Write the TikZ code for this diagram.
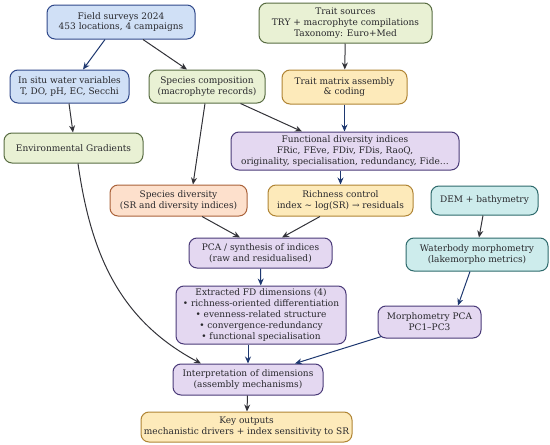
\documentclass[tikz,border=0pt]{standalone}
\usepackage{fontspec}
\setmainfont{DejaVu Serif}
\usepackage{xcolor}
\definecolor{wfBlueFill}{RGB}{208, 224, 246}
\definecolor{wfBlueLine}{RGB}{47, 72, 138}
\definecolor{wfGreenFill}{RGB}{233, 241, 212}
\definecolor{wfGreenLine}{RGB}{88, 108, 66}
\definecolor{wfSandFill}{RGB}{253, 234, 186}
\definecolor{wfSandLine}{RGB}{176, 132, 52}
\definecolor{wfLilacFill}{RGB}{228, 216, 241}
\definecolor{wfLilacLine}{RGB}{74, 58, 120}
\definecolor{wfPeachFill}{RGB}{253, 224, 204}
\definecolor{wfPeachLine}{RGB}{170, 98, 58}
\definecolor{wfTealFill}{RGB}{205, 236, 236}
\definecolor{wfTealLine}{RGB}{46, 106, 108}
\definecolor{wfNavy}{RGB}{30, 56, 112}
\definecolor{wfDark}{RGB}{50, 50, 56}
\definecolor{wfText}{RGB}{40, 40, 44}
\usepackage{tikz}
\usetikzlibrary{arrows.meta}

\begin{document}
\begin{tikzpicture}[
    x=1pt, y=-1pt,
    stepBox/.style={
        rectangle, rounded corners=8pt, line width=1pt,
        text=wfText, align=center, inner sep=1pt,
        font=\fontsize{9}{10.8}\selectfont
    },
    blueBox/.style={stepBox, fill=wfBlueFill, draw=wfBlueLine},
    greenBox/.style={stepBox, fill=wfGreenFill, draw=wfGreenLine},
    sandBox/.style={stepBox, fill=wfSandFill, draw=wfSandLine},
    lilacBox/.style={stepBox, fill=wfLilacFill, draw=wfLilacLine},
    peachBox/.style={stepBox, fill=wfPeachFill, draw=wfPeachLine},
    tealBox/.style={stepBox, fill=wfTealFill, draw=wfTealLine},
    navyArrow/.style={
        -{Stealth[length=7pt, width=6pt]}, line width=1pt, draw=wfNavy
    },
    darkArrow/.style={
        -{Stealth[length=7pt, width=6pt]}, line width=1pt, draw=wfDark
    }
]
    \useasboundingbox (0, 0) rectangle (550, 445);

    % Data sources
    \node[blueBox, minimum width=148pt, minimum height=34pt] (surveys) at (121, 22) {Field surveys 2024\\453 locations, 4 campaigns};
    \node[greenBox, minimum width=173pt, minimum height=40pt] (traitSrc) at (345.5, 23) {Trait sources\\TRY + macrophyte compilations\\Taxonomy: Euro+Med};
    \node[tealBox, minimum width=107pt, minimum height=29pt] (dem) at (484.5, 200.5) {DEM + bathymetry};

    % Intermediate products
    \node[blueBox, minimum width=119pt, minimum height=33pt] (water) at (69.5, 86.5) {In situ water variables\\T, DO, pH, EC, Secchi};
    \node[greenBox, minimum width=116pt, minimum height=33pt] (spComp) at (207, 86.5) {Species composition\\(macrophyte records)};
    \node[sandBox, minimum width=125pt, minimum height=34pt] (traitMat) at (344.5, 87) {Trait matrix assembly\\\& coding};
    \node[greenBox, minimum width=139pt, minimum height=30pt] (envGrad) at (73.5, 148) {Environmental Gradients};
    \node[lilacBox, text width=226pt, minimum height=38pt] (fdIdx) at (345, 151) {Functional diversity indices\\FRic, FEve, FDiv, FDis, RaoQ,\\originality, specialisation, redundancy, Fide…};
    \node[peachBox, minimum width=137pt, minimum height=31pt] (spDiv) at (178.5, 200.5) {Species diversity\\(SR and diversity indices)};
    \node[sandBox, minimum width=145pt, minimum height=31pt] (richCtrl) at (340.5, 200.5) {Richness control\\index ∼ log(SR) → residuals};
    \node[lilacBox, minimum width=143pt, minimum height=30pt] (pcaSyn) at (260.5, 253) {PCA / synthesis of indices\\(raw and residualised)};
    \node[tealBox, minimum width=142pt, minimum height=33pt] (morpho) at (477, 254.5) {Waterbody morphometry\\(lakemorpho metrics)};
    \node[lilacBox, minimum width=170pt, minimum height=58pt] (fdDims) at (261, 315) {Extracted FD dimensions (4)\\• richness-oriented differentiation\\• evenness-related structure\\• convergence-redundancy\\• functional specialisation};
    \node[lilacBox, minimum width=103pt, minimum height=32pt] (morphPca) at (429.5, 322) {Morphometry PCA\\PC1–PC3};

    % Synthesis
    \node[lilacBox, minimum width=150pt, minimum height=31pt] (interp) at (248, 379.5) {Interpretation of dimensions\\(assembly mechanisms)};
    \node[sandBox, minimum width=211pt, minimum height=30pt] (keyOut) at (246.5, 427) {Key outputs\\mechanistic drivers + index sensitivity to SR};

    % Connectors
    \draw[navyArrow] (surveys.south -| 105, 0) -- (water.north -| 83, 0);
    \draw[darkArrow] (surveys.south -| 143, 0) -- (spComp.north -| 187, 0);
    \draw[darkArrow] (water.south -| 69, 0) -- (envGrad.north -| 73, 0);
    \draw[darkArrow] (spComp.south -| 205, 0) -- (spDiv.north -| 193, 0);
    \draw[darkArrow] (spComp.south east) ++(-25, 0) -- (fdIdx.north -| 302, 0);
    \draw[darkArrow] (traitSrc) -- (traitMat);
    \draw[navyArrow] (traitMat) -- (traitMat |- fdIdx.north);
    \draw[navyArrow] (fdIdx.south -| richCtrl) -- (richCtrl);
    \draw[darkArrow] (richCtrl.south -| 320, 0) -- (pcaSyn.north -| 282, 0);
    \draw[darkArrow] (spDiv.south -| 202, 0) -- (pcaSyn.north -| 240, 0);
    \draw[navyArrow] (pcaSyn) -- (fdDims);
    \draw[darkArrow] (dem.south -| 483, 0) -- (morpho.north -| 479, 0);
    \draw[navyArrow] (morpho.south -| 470, 0) -- (morphPca.north -| 458, 0);
    \draw[navyArrow] (fdDims.south -| interp) -- (interp);
    \draw[navyArrow] (morphPca.south west) ++(4, -2) -- (interp.north -| 295, 0);
    \draw[darkArrow] (envGrad.south -| 78, 0) to[out=-82, in=152] (interp.north -| 201, 0);
    \draw[darkArrow] (interp) -- (keyOut);

\end{tikzpicture}
\end{document}
